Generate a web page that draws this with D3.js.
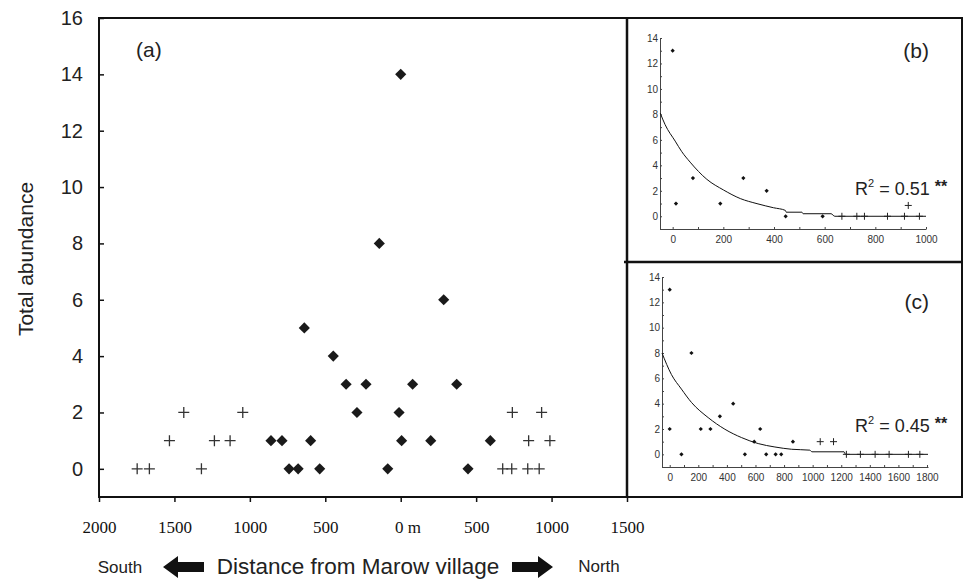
<!DOCTYPE html>
<html lang="en">
<head>
<meta charset="UTF-8" />
<script src="https://d3js.org/d3.v7.min.js"></script>
<title>Total abundance vs distance from Marow village</title>
<style>
    body { margin: 0; background: #fff; }
    svg { display: block; font-family: "Liberation Sans", Arial, sans-serif; }
</style>
</head>
<body>
<svg width="965" height="585"></svg>
<script>
    // (a) main panel: signed distance (south < 0, north > 0) and abundance
    const nearX = [0, -142, 285, -639, -447, -362, -230, 79, 371, -290, -11, -860, -787, -597, 6, 199, 594, -740, -680, -537, -86, 446]
    const nearY = [14, 8, 6, 5, 4, 3, 3, 3, 3, 2, 2, 1, 1, 1, 1, 1, 1, 0, 0, 0, 0, 0]
    const farX = [-1747, -1666, -1321, -1533, -1235, -1131, -1438, -1047, 740, 934, 848, 989, 676, 736, 842, 918]
    const farY = [0, 0, 0, 1, 1, 1, 2, 2, 2, 2, 1, 1, 0, 0, 0, 0]
    const mainTicks = [-2000, -1500, -1000, -500, 0, 500, 1000, 1500]
    const mainTickLabels = ["2000", "1500", "1000", "500", "0 m", "500", "1000", "1500"]
    const abundanceTicks = [0, 2, 4, 6, 8, 10, 12, 14, 16]

    // (b)
    const bNearX = [0, 13, 80, 188, 279, 371, 446, 592]
    const bNearY = [13, 1, 3, 1, 3, 2, 0, 0]
    const bFarX = [668, 727, 757, 848, 915, 974, 930]
    const bFarY = [0, 0, 0, 0, 0, 0, 0.85]
    const bFitX = [-49, -30, 10, 35, 69, 135, 201, 267, 333, 398, 445, 448, 510, 515, 625, 640, 1000]
    const bFitY = [8.1, 7.2, 5.9, 5.1, 4.25, 2.9, 2.06, 1.39, 0.99, 0.67, 0.46, 0.32, 0.32, 0.2, 0.2, 0, 0]
    const bTicks = [0, 200, 400, 600, 800, 1000]

    // (c)
    const cNearX = [0, 0, 82, 152, 217, 285, 351, 444, 526, 591, 633, 675, 741, 780, 862]
    const cNearY = [13, 2, 0, 8, 2, 2, 3, 4, 0, 1, 2, 0, 0, 0, 1]
    const cFarX = [1053, 1146, 1236, 1334, 1437, 1535, 1670, 1750]
    const cFarY = [1, 1, 0, 0, 0, 0, 0, 0]
    const cFitX = [-54, 12, 82, 152, 269, 386, 503, 619, 736, 853, 980, 995, 1220, 1230, 1807]
    const cFitY = [8.0, 6.3, 5.15, 4.1, 2.9, 1.98, 1.32, 0.85, 0.58, 0.4, 0.33, 0.2, 0.2, 0, 0]
    const cTicks = [0, 200, 400, 600, 800, 1000, 1200, 1400, 1600, 1800]

    const insetYTicks = [0, 2, 4, 6, 8, 10, 12, 14]

    const svg = d3.select("svg")

    const x = d3.scaleLinear().domain([-2000, 1500]).range([99, 627])
    const y = d3.scaleLinear().domain([-1, 16]).range([497, 18])

    const diamond = size => d3.symbol().type(d3.symbolSquare).size(size)
    const cross = r => `M${-r},0H${r}M0,${-r}V${r}`

    // frames
    svg.append("rect").attr("x", 99).attr("y", 18).attr("width", 863).attr("height", 479)
        .attr("fill", "none").attr("stroke", "#111").attr("stroke-width", 2)
    svg.append("line").attr("x1", 627).attr("x2", 627).attr("y1", 18).attr("y2", 497)
        .attr("stroke", "#111").attr("stroke-width", 2.5)
    svg.append("line").attr("x1", 624).attr("x2", 962).attr("y1", 262).attr("y2", 262)
        .attr("stroke", "#111").attr("stroke-width", 2.5)

    // main axes
    const yAxis = g => g.attr("transform", "translate(99,0)")
        .call(d3.axisLeft(y).tickValues(abundanceTicks).tickSizeInner(-5).tickSizeOuter(0).tickPadding(16))
        .call(g => g.select(".domain").remove())
        .call(g => g.selectAll("line").attr("stroke", "#111").attr("stroke-width", 1.5))
        .call(g => g.selectAll("text").attr("font-size", 20).attr("fill", "#222")
            .attr("font-family", "'Liberation Sans', Arial, sans-serif"))
    const xAxis = g => g.attr("transform", "translate(0,497)")
        .call(d3.axisBottom(x).tickValues(mainTicks).tickFormat((d, i) => mainTickLabels[i]).tickSize(5).tickPadding(19))
        .call(g => g.select(".domain").remove())
        .call(g => g.selectAll("line").attr("stroke", "#111").attr("stroke-width", 1.5))
        .call(g => g.selectAll("text").attr("font-size", 17).attr("fill", "#111")
            .attr("font-family", "'Liberation Serif', 'Times New Roman', serif")
            .attr("dx", d => d === 0 ? "0.4em" : 0))
    svg.append("g").call(yAxis)
    svg.append("g").call(xAxis)

    // main points
    svg.append("g").attr("stroke", "#333").attr("stroke-width", 1.3).attr("fill", "none")
        .selectAll("path").data(farX).join("path")
        .attr("d", cross(5.5))
        .attr("transform", (d, i) => `translate(${x(d)},${y(farY[i])})`)
    svg.append("g").attr("fill", "#1a1a1a")
        .selectAll("path").data(nearX).join("path")
        .attr("d", diamond(62))
        .attr("transform", (d, i) => `translate(${x(d)},${y(nearY[i])}) rotate(45)`)

    svg.append("text").attr("x", 136).attr("y", 57).attr("font-size", 21).attr("fill", "#222").text("(a)")

    svg.append("text").attr("transform", "translate(33,259) rotate(-90)").attr("text-anchor", "middle")
        .attr("font-size", 21).attr("fill", "#222").text("Total abundance")

    // bottom caption with arrows
    svg.append("text").attr("x", 120).attr("y", 573).attr("text-anchor", "middle").attr("font-size", 17)
        .attr("fill", "#222").text("South")
    svg.append("text").attr("x", 599).attr("y", 572).attr("text-anchor", "middle").attr("font-size", 17)
        .attr("fill", "#222").text("North")
    svg.append("text").attr("x", 358).attr("y", 574).attr("text-anchor", "middle").attr("font-size", 22.5)
        .attr("fill", "#222").text("Distance from Marow village")
    svg.append("path").attr("fill", "#111")
        .attr("d", "M163,567 L178,556 L178,562 L204,562 L204,572 L178,572 L178,578 Z")
    svg.append("path").attr("fill", "#111")
        .attr("d", "M553,567 L538,556 L538,562 L512,562 L512,572 L538,572 L538,578 Z")

    // insets
    function drawInset(o) {
        const ix = d3.scaleLinear().domain(o.xDomain).range(o.xRange)
        const iy = d3.scaleLinear().domain([-1, 14]).range(o.yRange)
        const g = svg.append("g")
        const axisColor = "#444"

        g.append("g").attr("transform", `translate(${o.xRange[0]},0)`)
            .call(d3.axisLeft(iy).tickValues(d3.range(-1, 15)).tickSizeInner(-2).tickSizeOuter(0).tickPadding(2)
                .tickFormat(d => insetYTicks.includes(d) ? d : ""))
            .call(g => g.select(".domain").attr("stroke", axisColor))
            .call(g => g.selectAll("line").attr("stroke", axisColor))
            .call(g => g.selectAll("text").attr("font-size", 10).attr("fill", "#333")
                .attr("font-family", "'Liberation Sans', Arial, sans-serif"))
        g.append("g").attr("transform", `translate(0,${o.yRange[0]})`)
            .call(d3.axisBottom(ix).tickValues(d3.range(0, o.xDomain[1] + 1, 100)).tickSizeInner(-2).tickSizeOuter(0).tickPadding(7)
                .tickFormat(d => o.ticks.includes(d) ? d : ""))
            .call(g => g.select(".domain").attr("stroke", axisColor))
            .call(g => g.selectAll("line").attr("stroke", axisColor))
            .call(g => g.selectAll("text").attr("font-size", 10).attr("fill", "#333")
                .attr("font-family", "'Liberation Sans', Arial, sans-serif"))

        const line = d3.line().x(d => ix(d[0])).y(d => iy(d[1])).curve(d3.curveMonotoneX)
        g.append("path").datum(o.fitX.map((d, i) => [d, o.fitY[i]]))
            .attr("d", line).attr("fill", "none").attr("stroke", "#111").attr("stroke-width", 1)

        g.append("g").attr("stroke", "#222").attr("stroke-width", 1).attr("fill", "none")
            .selectAll("path").data(o.farX).join("path")
            .attr("d", cross(3.5))
            .attr("transform", (d, i) => `translate(${ix(d)},${iy(o.farY[i])})`)
        g.append("g").attr("fill", "#111")
            .selectAll("path").data(o.nearX).join("path")
            .attr("d", diamond(9))
            .attr("transform", (d, i) => `translate(${ix(d)},${iy(o.nearY[i])}) rotate(45)`)

        g.append("text").attr("x", 929).attr("y", o.labelY).attr("text-anchor", "end")
            .attr("font-size", 21).attr("fill", "#222").text(o.label)
        const r = g.append("text").attr("x", 855).attr("y", o.r2Y).attr("font-size", 18).attr("fill", "#222")
        r.append("tspan").text("R")
        r.append("tspan").attr("font-size", 11).attr("dy", -8).text("2")
        r.append("tspan").attr("dy", 8).text(` = ${o.r2} `)
        r.append("tspan").attr("font-size", 16).attr("font-weight", "bold").attr("dy", -3).text("**")
    }

    drawInset({
        xDomain: [-50, 1000], xRange: [660, 926], yRange: [229, 38],
        ticks: bTicks, nearX: bNearX, nearY: bNearY, farX: bFarX, farY: bFarY,
        fitX: bFitX, fitY: bFitY, label: "(b)", labelY: 58, r2: "0.51", r2Y: 195
    })
    drawInset({
        xDomain: [-54, 1807], xRange: [662, 928], yRange: [467, 277],
        ticks: cTicks, nearX: cNearX, nearY: cNearY, farX: cFarX, farY: cFarY,
        fitX: cFitX, fitY: cFitY, label: "(c)", labelY: 309, r2: "0.45", r2Y: 432
    })
</script>
</body>
</html>
